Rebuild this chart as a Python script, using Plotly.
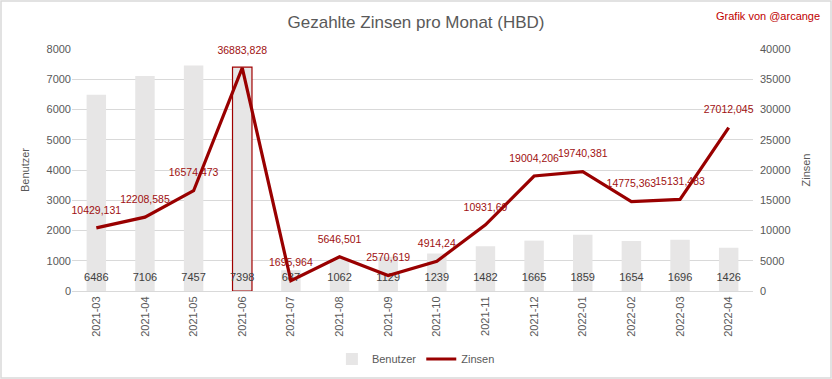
import plotly.graph_objects as go

months = ["2021-03", "2021-04", "2021-05", "2021-06", "2021-07", "2021-08", "2021-09",
          "2021-10", "2021-11", "2021-12", "2022-01", "2022-02", "2022-03", "2022-04"]
benutzer = [6486, 7106, 7457, 7398, 687, 1062, 1129, 1239, 1482, 1665, 1859, 1654, 1696, 1426]
zinsen = [10429.131, 12208.585, 16574.473, 36883.828, 1695.964, 5646.501, 2570.619,
          4914.24, 10931.69, 19004.206, 19740.381, 14775.363, 15131.483, 27012.045]
highlight = "2021-06"

zinsen_text = [str(v).replace(".", ",") for v in zinsen]
bar_line_colors = ["#a00000" if m == highlight else "rgba(0,0,0,0)" for m in months]

FONT = "Liberation Sans"
GREY = "#595959"
RED = "#990000"

fig = go.Figure()
fig.add_trace(go.Bar(
    x=months, y=benutzer, name="Benutzer",
    marker=dict(color="#e7e6e6", line=dict(color=bar_line_colors, width=1.2)),
    yaxis="y",
))
fig.add_trace(go.Scatter(
    x=months, y=[430] * len(months), mode="text", text=[str(v) for v in benutzer],
    textfont=dict(color="#404040", size=11, family=FONT), showlegend=False,
    hoverinfo="skip", yaxis="y", cliponaxis=False,
))
fig.add_trace(go.Scatter(
    x=months, y=zinsen, name="Zinsen", mode="lines+markers+text",
    line=dict(color=RED, width=3.2),
    marker=dict(size=17, color="rgba(0,0,0,0)", line=dict(width=0)),
    text=zinsen_text, textposition="top center",
    textfont=dict(color="#a01010", size=10.5, family=FONT), yaxis="y2", cliponaxis=False,
))

l, r, t, b = 72, 79, 49, 88
pw, ph = 832 - l - r, 379 - t - b

fig.update_layout(
    width=832, height=379,
    margin=dict(l=l, r=r, t=t, b=b, pad=0, autoexpand=False),
    paper_bgcolor="white", plot_bgcolor="white",
    font=dict(family=FONT, color=GREY, size=11),
    bargap=0.6,
    title=dict(text="Gezahlte Zinsen pro Monat (HBD)", x=0.5, xanchor="center",
               y=1 - 22 / 379, yanchor="middle",
               font=dict(size=17, color=GREY, family=FONT)),
    xaxis=dict(type="category", range=[-0.5, len(months) - 0.5], tickangle=-90,
               showgrid=False, showline=True,
               linecolor="#d9d9d9", linewidth=1, ticks="", automargin=False,
               tickfont=dict(size=11, color=GREY)),
    yaxis=dict(range=[0, 8000], dtick=1000, showgrid=True, gridcolor="#d9d9d9",
               zeroline=False, ticks="", automargin=False, tickformat="d",
               title=dict(text="Benutzer", standoff=14, font=dict(size=11, color=GREY)),
               tickfont=dict(size=11, color=GREY)),
    yaxis2=dict(range=[0, 40000], dtick=5000, overlaying="y", side="right",
                showgrid=False, zeroline=False, ticks="", automargin=False, tickformat="d",
                ticklabelstandoff=6,
                title=dict(text="Zinsen", standoff=12, font=dict(size=11, color=GREY)),
                tickfont=dict(size=11, color=GREY)),
    legend=dict(orientation="h", x=0.505, xanchor="center", y=(291 - 359) / ph,
                yanchor="middle", font=dict(size=11, color=GREY), bgcolor="rgba(0,0,0,0)"),
    annotations=[dict(text="Grafik von @arcange", xref="paper", yref="paper",
                      x=(822 - l) / pw, y=(291 - 16) / ph, xanchor="right", yanchor="middle",
                      showarrow=False, font=dict(size=11, color="#c00000", family=FONT))],
    shapes=[dict(type="rect", xref="paper", yref="paper",
                 x0=(1 - l) / pw, x1=(831 - l) / pw, y0=(291 - 378) / ph, y1=(291 - 1) / ph,
                 line=dict(color="#d9d9d9", width=1.5), fillcolor="rgba(0,0,0,0)", layer="below")],
)

fig.write_html("out.html", config={"displayModeBar": False},
               post_script="document.body.style.margin='0';")
